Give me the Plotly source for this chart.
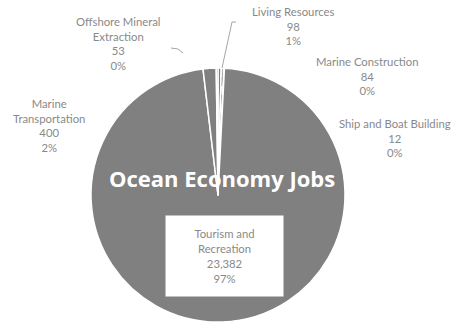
import plotly.graph_objects as go

W, H = 454, 324

categories = ["Living Resources", "Marine Construction", "Ship and Boat Building",
              "Tourism and Recreation", "Marine Transportation", "Offshore Mineral Extraction"]
jobs = [98, 84, 12, 23382, 400, 53]
pct_labels = ["1%", "0%", "0%", "97%", "2%", "0%"]
label_lines = [["Living Resources"], ["Marine Construction"], ["Ship and Boat Building"],
               ["Tourism and", "Recreation"], ["Marine", "Transportation"],
               ["Offshore Mineral", "Extraction"]]

# label anchor positions (pixels, centre of text block)
label_pos = [(293, 26), (367, 76), (395, 138), (224, 256), (49, 126), (118, 43)]

def px(x, y):
    return x / W, 1 - y / H

fig = go.Figure(go.Pie(
    labels=categories, values=jobs, sort=False, direction="clockwise", rotation=0,
    marker=dict(colors=["#808080"] * len(jobs), line=dict(color="white", width=1.5)),
    textinfo="none", hoverinfo="label+value+percent", showlegend=False,
    domain=dict(x=[91 / W, 345 / W], y=[2 / H, 256 / H]),
))

gray = "#898989"
annotations = []
for i, cat in enumerate(categories):
    txt = "<br>".join(label_lines[i] + [f"{jobs[i]:,}", pct_labels[i]])
    x, y = px(*label_pos[i])
    a = dict(x=x, y=y, xref="paper", yref="paper", text=txt, showarrow=False,
             font=dict(family="Lato", size=11.3, color=gray), align="center",
             xanchor="center", yanchor="middle")
    if cat == "Tourism and Recreation":
        a.update(bgcolor="white", width=113, height=76, borderpad=2)
    annotations.append(a)

tx, ty = px(222, 178)
annotations.append(dict(x=tx, y=ty, xref="paper", yref="paper", text="<b>Ocean Economy Jobs</b>",
                        showarrow=False, font=dict(family="Open Sans", size=22, color="white"),
                        xanchor="center", yanchor="middle"))

shapes = []
def line(x0, y0, x1, y1, color, dash="solid", width=1):
    a0 = px(x0, y0); a1 = px(x1, y1)
    shapes.append(dict(type="line", xref="paper", yref="paper", x0=a0[0], y0=a0[1],
                       x1=a1[0], y1=a1[1], line=dict(color=color, width=width, dash=dash)))

line(236, 22, 232, 22, "#a6a6a6")
line(232, 22, 222, 68, "#a6a6a6")
line(222, 68, 218, 190, "white", dash="dash")
line(171, 48, 178, 49, "#a6a6a6")
line(178, 49, 183, 53, "#a6a6a6")

fig.update_layout(width=W, height=H, margin=dict(l=0, r=0, t=0, b=0),
                  paper_bgcolor="white", plot_bgcolor="white",
                  annotations=annotations, shapes=shapes)
fig.write_html("out.html")
